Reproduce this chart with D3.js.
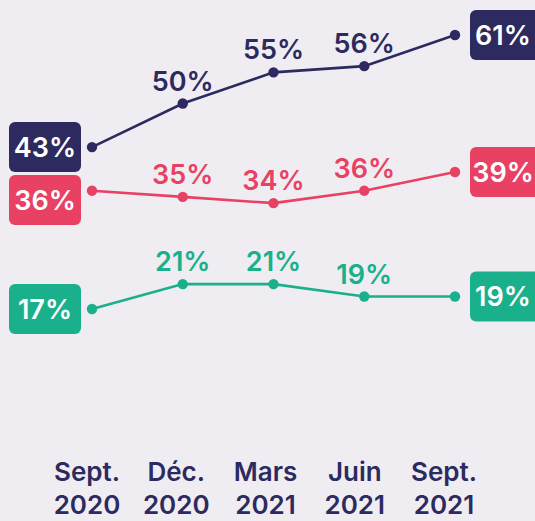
<!DOCTYPE html>
<html lang="fr">
<head>
    <meta charset="UTF-8">
    <title>Évolution</title>
    <script src="https://cdnjs.cloudflare.com/ajax/libs/d3/7.8.5/d3.min.js"></script>
    <style>
        body {
            margin: 0;
            overflow: hidden;
            background: #efedf2;
            font-family: Inter, sans-serif;
        }
    </style>
</head>
<body>
    <script>
        const width = 535;
        const height = 521;

        // Data
        const periods = [['Sept.', '2020'], ['Déc.', '2020'], ['Mars', '2021'], ['Juin', '2021'], ['Sept.', '2021']];
        const navyValues = [43, 50, 55, 56, 61];
        const redValues = [36, 35, 34, 36, 39];
        const greenValues = [17, 21, 21, 19, 19];

        const series = [
            { values: navyValues, color: '#2c2a5e' },
            { values: redValues, color: '#e84163' },
            { values: greenValues, color: '#19b08b' }
        ];

        const svg = d3.select('body')
            .append('svg')
            .attr('width', width)
            .attr('height', height);

        const keys = d3.range(periods.length);

        // Scales
        const x = d3.scalePoint().domain(keys).range([92, 455]);
        const xAxis = d3.scalePoint().domain(keys).range([87, 444]);
        const y = d3.scaleLinear().domain([17, 61]).range([309, 35]);

        const line = d3.line()
            .x((d, i) => x(i))
            .y(d => y(d));

        const fontSize = 27;
        const fontWeight = 600;
        const boxW = 72, boxH = 50;

        // Lines, dots, labels
        series.forEach(s => {
            const g = svg.append('g');

            g.append('path')
                .datum(s.values)
                .attr('d', line)
                .attr('fill', 'none')
                .attr('stroke', s.color)
                .attr('stroke-width', 2.6);

            g.selectAll('circle')
                .data(s.values)
                .enter()
                .append('circle')
                .attr('cx', (d, i) => x(i))
                .attr('cy', d => y(d))
                .attr('r', 5.2)
                .attr('fill', s.color);

            // middle labels
            g.selectAll('text.mid')
                .data(s.values.slice(1, -1))
                .enter()
                .append('text')
                .attr('class', 'mid')
                .attr('x', (d, i) => x(i + 1))
                .attr('y', d => y(d) - 13)
                .attr('text-anchor', 'middle')
                .attr('font-size', fontSize)
                .attr('font-weight', fontWeight)
                .attr('fill', s.color)
                .text(d => d + '%');
        });

        // End boxes, pushed down if they overlap
        function drawBoxes(idx, bx, textX) {
            let lastBottom = -Infinity;
            series.forEach(s => {
                const v = s.values[idx];
                let top = y(v) - boxH / 2;
                if (top < lastBottom + 3) top = lastBottom + 3;
                lastBottom = top + boxH;

                svg.append('rect')
                    .attr('x', bx)
                    .attr('y', top)
                    .attr('width', boxW)
                    .attr('height', boxH)
                    .attr('rx', 6)
                    .attr('fill', s.color);

                svg.append('text')
                    .attr('x', textX)
                    .attr('y', top + boxH / 2)
                    .attr('dy', '0.36em')
                    .attr('text-anchor', 'middle')
                    .attr('font-size', fontSize)
                    .attr('font-weight', fontWeight)
                    .attr('fill', '#fff')
                    .text(v + '%');
            });
        }

        drawBoxes(0, 9, 45);
        drawBoxes(periods.length - 1, 470, 503);

        // X axis labels
        const ax = svg.append('g');
        periods.forEach((p, i) => {
            const t = ax.append('text')
                .attr('x', xAxis(i))
                .attr('y', 481)
                .attr('text-anchor', 'middle')
                .attr('font-size', 26)
                .attr('font-weight', fontWeight)
                .attr('fill', '#2c2a5e');
            t.append('tspan').attr('x', xAxis(i)).text(p[0]);
            t.append('tspan').attr('x', xAxis(i)).attr('dy', 33).text(p[1]);
        });
    </script>
</body>
</html>
